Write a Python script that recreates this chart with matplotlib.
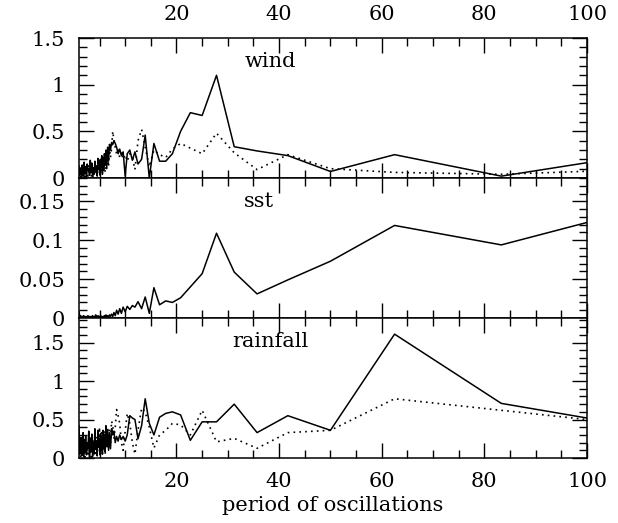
import matplotlib
matplotlib.use('Agg')
from matplotlib import pyplot as plt
from matplotlib.ticker import MultipleLocator, FormatStrFormatter

plt.rcParams['font.family'] = ['DejaVu Serif']
plt.rcParams['font.size'] = 15

# periods (x values, shared by all three panels)
periods = [125.0, 83.3, 62.5, 50.0, 41.7, 35.7, 31.25, 27.8, 25.0, 22.7,
           20.8, 19.2, 17.9, 16.7, 15.6, 14.7, 13.9, 13.2, 12.5, 11.9,
           11.4, 10.9, 10.4, 10.0, 9.6, 9.26, 8.93, 8.62, 8.33, 8.06,
           7.81, 7.58, 7.35, 7.14, 6.94, 6.76, 6.58, 6.41, 6.25, 6.10,
           5.95, 5.81, 5.68, 5.56, 5.43, 5.32, 5.21, 5.10, 5.00,
           4.85, 4.7, 4.55, 4.4, 4.25, 4.1, 3.95, 3.8, 3.65, 3.5,
           3.35, 3.2, 3.05, 2.9, 2.75, 2.6, 2.45, 2.3, 2.15, 2.0,
           1.9, 1.8, 1.7, 1.6, 1.5, 1.4, 1.3, 1.2, 1.1, 1.0]

wind_solid = [0.38, 0.02, 0.25, 0.07, 0.24, 0.29, 0.335, 1.10, 0.67, 0.70,
              0.50, 0.26, 0.18, 0.18, 0.37, 0.00, 0.46, 0.20, 0.15, 0.28,
              0.19, 0.30, 0.26, 0.02, 0.28, 0.24, 0.31, 0.26, 0.33, 0.37,
              0.40, 0.36, 0.38, 0.30, 0.36, 0.18, 0.33, 0.10, 0.30, 0.14,
              0.26, 0.08, 0.22, 0.05, 0.24, 0.12, 0.20, 0.03, 0.19,
              0.09, 0.21, 0.02, 0.13, 0.07, 0.18, 0.04, 0.11, 0.01, 0.16,
              0.06, 0.19, 0.03, 0.10, 0.08, 0.15, 0.01, 0.12, 0.05, 0.17,
              0.02, 0.09, 0.07, 0.14, 0.01, 0.11, 0.04, 0.08, 0.03, 0.13]
wind_dotted = [0.12, 0.04, 0.06, 0.10, 0.25, 0.09, 0.27, 0.48, 0.26, 0.32,
               0.37, 0.31, 0.22, 0.25, 0.30, 0.12, 0.33, 0.52, 0.40, 0.09,
               0.22, 0.26, 0.18, 0.25, 0.20, 0.28, 0.22, 0.30, 0.26, 0.33,
               0.40, 0.50, 0.32, 0.22, 0.30, 0.12, 0.25, 0.15, 0.22, 0.06,
               0.20, 0.10, 0.18, 0.04, 0.15, 0.08, 0.16, 0.02, 0.14,
               0.07, 0.11, 0.02, 0.13, 0.05, 0.09, 0.03, 0.12, 0.06, 0.08,
               0.01, 0.10, 0.04, 0.13, 0.02, 0.07, 0.05, 0.09, 0.01, 0.11,
               0.03, 0.06, 0.04, 0.10, 0.02, 0.08, 0.01, 0.06, 0.05, 0.10]

sst_solid = [0.166, 0.094, 0.119, 0.073, 0.049, 0.031, 0.059, 0.109, 0.057, 0.040,
             0.026, 0.020, 0.022, 0.017, 0.039, 0.006, 0.027, 0.012, 0.021, 0.014,
             0.016, 0.011, 0.015, 0.008, 0.014, 0.006, 0.012, 0.005, 0.010, 0.003,
             0.007, 0.002, 0.005, 0.002, 0.004, 0.001, 0.003, 0.002, 0.004, 0.001,
             0.003, 0.001, 0.002, 0.001, 0.002, 0.001, 0.003, 0.001, 0.002,
             0.001, 0.003, 0.001, 0.002, 0.004, 0.001, 0.002, 0.001, 0.003, 0.001,
             0.002, 0.001, 0.002, 0.001, 0.003, 0.001, 0.002, 0.001, 0.002, 0.001,
             0.003, 0.001, 0.002, 0.001, 0.002, 0.001, 0.003, 0.002, 0.004, 0.008]

rain_solid = [0.235, 0.71, 1.61, 0.36, 0.55, 0.33, 0.70, 0.47, 0.47, 0.23,
              0.56, 0.60, 0.58, 0.53, 0.30, 0.45, 0.77, 0.42, 0.25, 0.50,
              0.52, 0.55, 0.30, 0.22, 0.28, 0.24, 0.30, 0.22, 0.28, 0.20,
              0.35, 0.30, 0.38, 0.12, 0.32, 0.10, 0.35, 0.15, 0.42, 0.08,
              0.30, 0.12, 0.36, 0.05, 0.28, 0.10, 0.32, 0.04, 0.25,
              0.14, 0.36, 0.03, 0.22, 0.11, 0.38, 0.06, 0.19, 0.02, 0.31,
              0.09, 0.26, 0.01, 0.35, 0.12, 0.20, 0.04, 0.29, 0.07, 0.24,
              0.02, 0.33, 0.10, 0.18, 0.03, 0.27, 0.06, 0.21, 0.05, 0.42]
rain_dotted = [0.32, 0.62, 0.77, 0.36, 0.33, 0.126, 0.255, 0.21, 0.62, 0.30,
               0.43, 0.45, 0.36, 0.30, 0.13, 0.40, 0.60, 0.65, 0.36, 0.05,
               0.20, 0.45, 0.58, 0.35, 0.10, 0.20, 0.45, 0.55, 0.63, 0.40,
               0.25, 0.42, 0.48, 0.20, 0.38, 0.12, 0.40, 0.18, 0.30, 0.05,
               0.36, 0.10, 0.28, 0.04, 0.33, 0.12, 0.26, 0.03, 0.40,
               0.12, 0.21, 0.03, 0.28, 0.06, 0.17, 0.02, 0.25, 0.09, 0.14,
               0.01, 0.23, 0.05, 0.19, 0.02, 0.16, 0.07, 0.21, 0.01, 0.13,
               0.04, 0.18, 0.02, 0.12, 0.06, 0.16, 0.01, 0.11, 0.03, 0.20]

panel_names = ['wind', 'sst', 'rainfall']
panel_ylims = [1.5, 0.18, 1.82]
panel_major = [0.5, 0.05, 0.5]
panel_minor = [0.1, 0.01, 0.1]
name_x = [0.327, 0.325, 0.301]

fig = plt.figure(figsize=(6.18, 5.23), dpi=100)
left, width = 79 / 618, 508 / 618
h = 140 / 523
bottoms = [345 / 523, 205 / 523, 65 / 523]
axes = [fig.add_axes([left, b, width, h]) for b in bottoms]

dots = (0, (1, 2.5))
axes[0].plot(periods, wind_solid, color='black', lw=1.1)
axes[0].plot(periods, wind_dotted, color='black', lw=1.2, linestyle=dots)
axes[1].plot(periods, sst_solid, color='black', lw=1.1)
axes[2].plot(periods, rain_solid, color='black', lw=1.1)
axes[2].plot(periods, rain_dotted, color='black', lw=1.2, linestyle=dots)

for i, ax in enumerate(axes):
    ax.set_xlim(1, 100)
    ax.set_ylim(0, panel_ylims[i])
    ax.xaxis.set_major_locator(MultipleLocator(20))
    ax.xaxis.set_minor_locator(MultipleLocator(5))
    ax.yaxis.set_major_locator(MultipleLocator(panel_major[i]))
    ax.yaxis.set_minor_locator(MultipleLocator(panel_minor[i]))
    ax.yaxis.set_major_formatter(FormatStrFormatter('%g'))
    ax.tick_params(which='both', direction='in', top=True, right=True,
                   bottom=True, left=True, width=1.0, color='black')
    ax.tick_params(which='major', length=11)
    ax.tick_params(which='minor', length=5.5)
    ax.tick_params(axis='y', pad=10)
    ax.tick_params(axis='x', pad=10, labelbottom=False, labeltop=False)
    for s in ax.spines.values():
        s.set_linewidth(1.1)
    ax.text(name_x[i], 0.795, panel_names[i], transform=ax.transAxes,
            ha='left', va='baseline')

axes[0].tick_params(axis='x', labeltop=True)
axes[2].tick_params(axis='x', labelbottom=True)
axes[2].set_xlabel('period of oscillations', labelpad=4)

fig.savefig('out.png', dpi=100)
